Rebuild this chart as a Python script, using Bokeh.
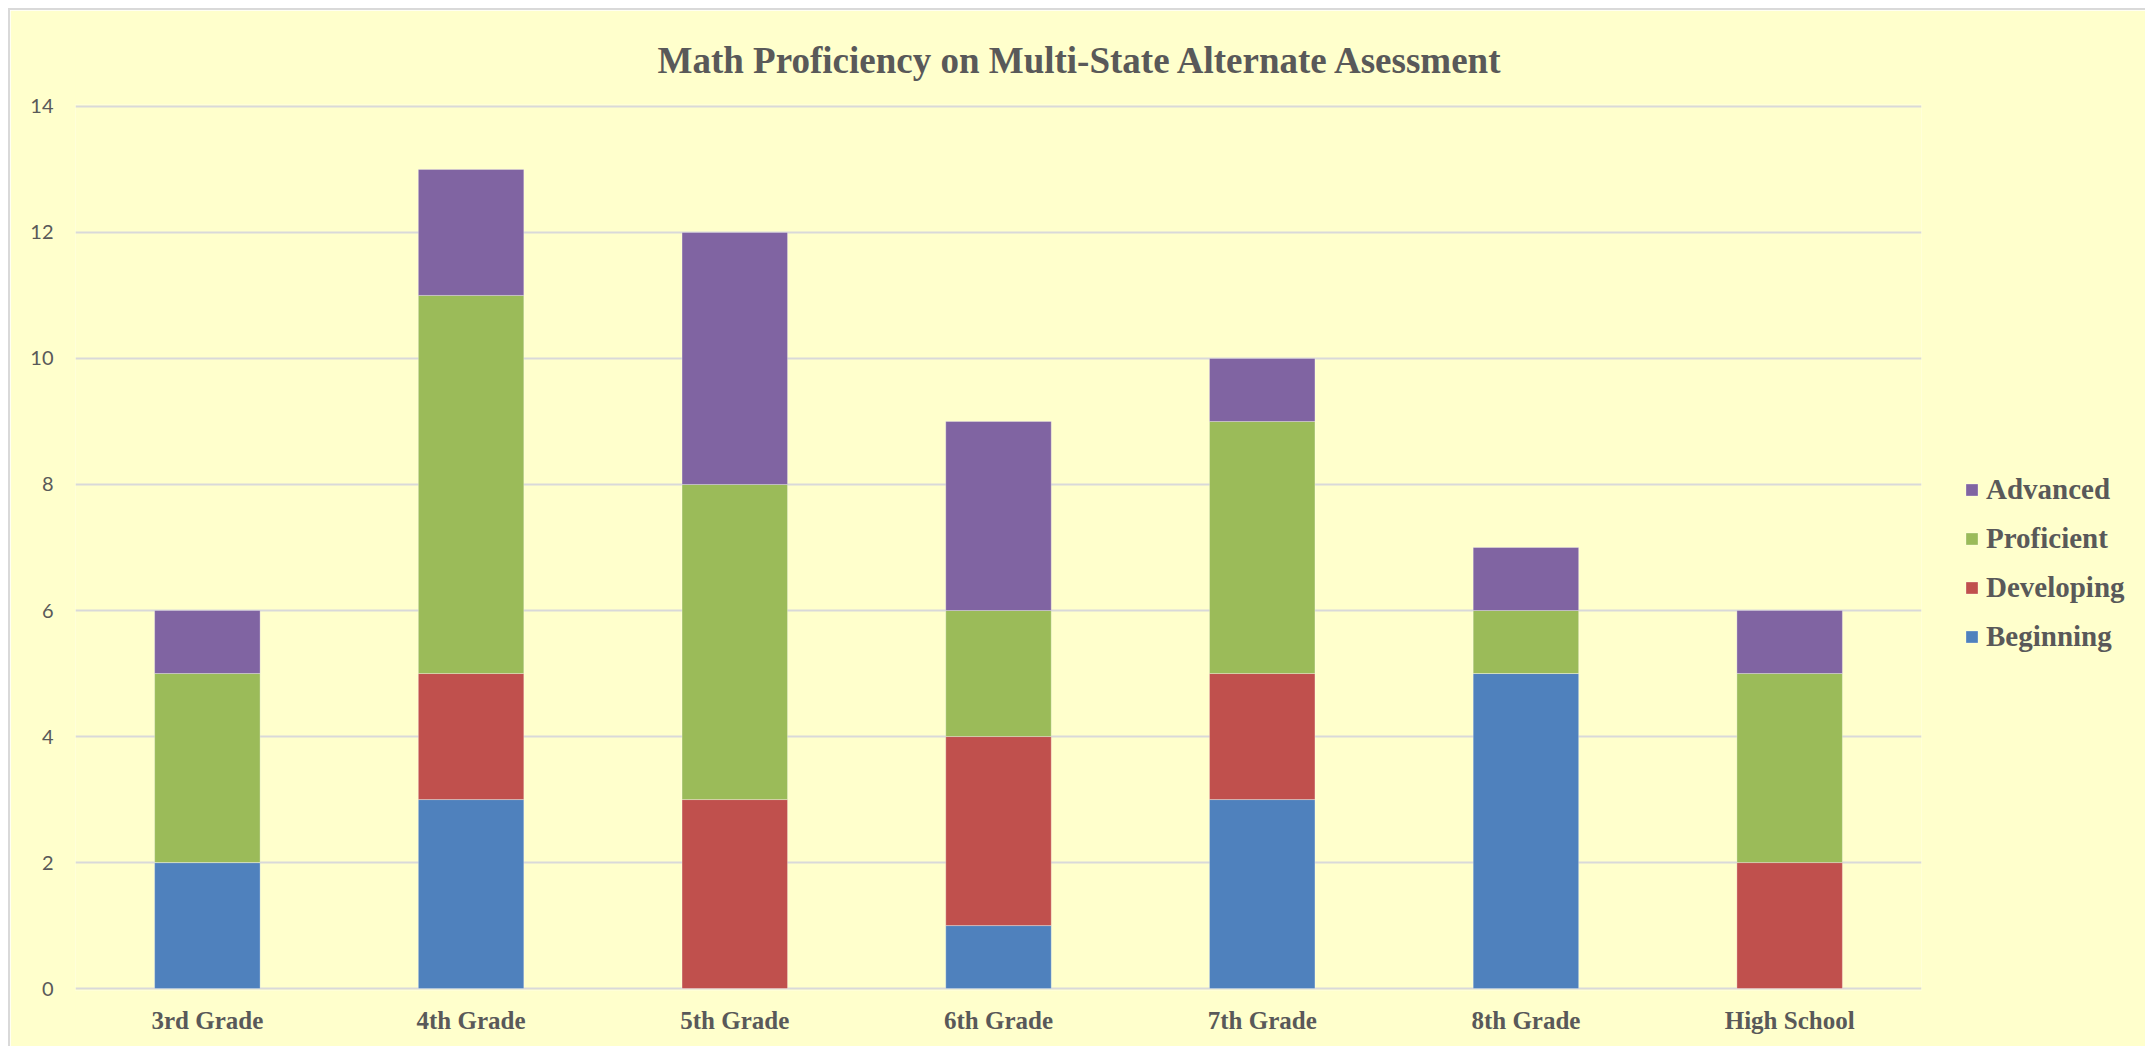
from bokeh.plotting import figure
from bokeh.models import FactorRange, Range1d, Legend, LegendItem, Title
from bokeh.embed import file_html
from bokeh.resources import INLINE

grades = ["3rd Grade", "4th Grade", "5th Grade", "6th Grade", "7th Grade", "8th Grade", "High School"]
beginning = [2, 3, 0, 1, 3, 5, 0]
developing = [0, 2, 3, 3, 2, 0, 2]
proficient = [3, 6, 5, 2, 4, 1, 3]
advanced = [1, 2, 4, 3, 1, 1, 1]
series = ["Beginning", "Developing", "Proficient", "Advanced"]
colors = ["#4F81BD", "#C0504D", "#9BBB59", "#8064A2"]
y_ticks = [0, 2, 4, 6, 8, 10, 12, 14]

data = dict(grade=grades, Beginning=beginning, Developing=developing,
            Proficient=proficient, Advanced=advanced)

BG = "#FFFFCC"
TXT = "#595959"

p = figure(width=2135, height=1036, frame_width=1846, frame_height=886,
           output_backend="svg", toolbar_location=None, margin=(10, 0, 0, 10),
           x_range=FactorRange(*grades), y_range=Range1d(-0.03, 14.03),
           min_border_left=65, min_border_right=224, min_border_top=94, min_border_bottom=56,
           styles={"outline": "2px solid #D9D9D9"})
p.background_fill_color = BG
p.border_fill_color = BG
p.outline_line_color = None

renderers = p.vbar_stack(series, x="grade", width=0.4, color=colors, source=data,
                         line_color="#FFFFFF", line_alpha=0.3, line_width=1)

p.xgrid.grid_line_color = None
p.ygrid.grid_line_color = "#D9D9D9"
p.ygrid.grid_line_width = 2
p.yaxis.ticker = y_ticks

for ax in (p.xaxis, p.yaxis):
    ax.axis_line_color = None
    ax.major_tick_line_color = None
    ax.minor_tick_line_color = None
    ax.major_tick_out = 0
    ax.major_tick_in = 0
    ax.minor_tick_out = 0
    ax.minor_tick_in = 0
    ax.major_label_text_color = TXT

p.yaxis.major_label_text_font = "Lato"
p.yaxis.major_label_text_font_size = "20px"
p.yaxis.major_label_standoff = 22

p.xaxis.major_label_text_font = "Liberation Serif"
p.xaxis.major_label_text_font_style = "bold"
p.xaxis.major_label_text_font_size = "25px"
p.xaxis.major_label_standoff = 16

title = Title(text="Math Proficiency on Multi-State Alternate Asessment",
              text_font="Liberation Serif", text_font_style="bold",
              text_font_size="37px", text_color=TXT, align="left", offset=582,
              standoff=48)
p.add_layout(title, "above")

items = [LegendItem(label=s, renderers=[r]) for s, r in zip(series, renderers)][::-1]
legend = Legend(items=items, location=(43, 337), orientation="vertical",
                background_fill_alpha=0, border_line_color=None,
                padding=0, margin=0, spacing=16,
                glyph_width=15, glyph_height=15, label_height=28, label_standoff=7,
                label_text_font="Liberation Serif", label_text_font_style="bold",
                label_text_font_size="29px", label_text_color=TXT)
p.add_layout(legend, "right")

open("out.html", "w").write(file_html(p, INLINE))
